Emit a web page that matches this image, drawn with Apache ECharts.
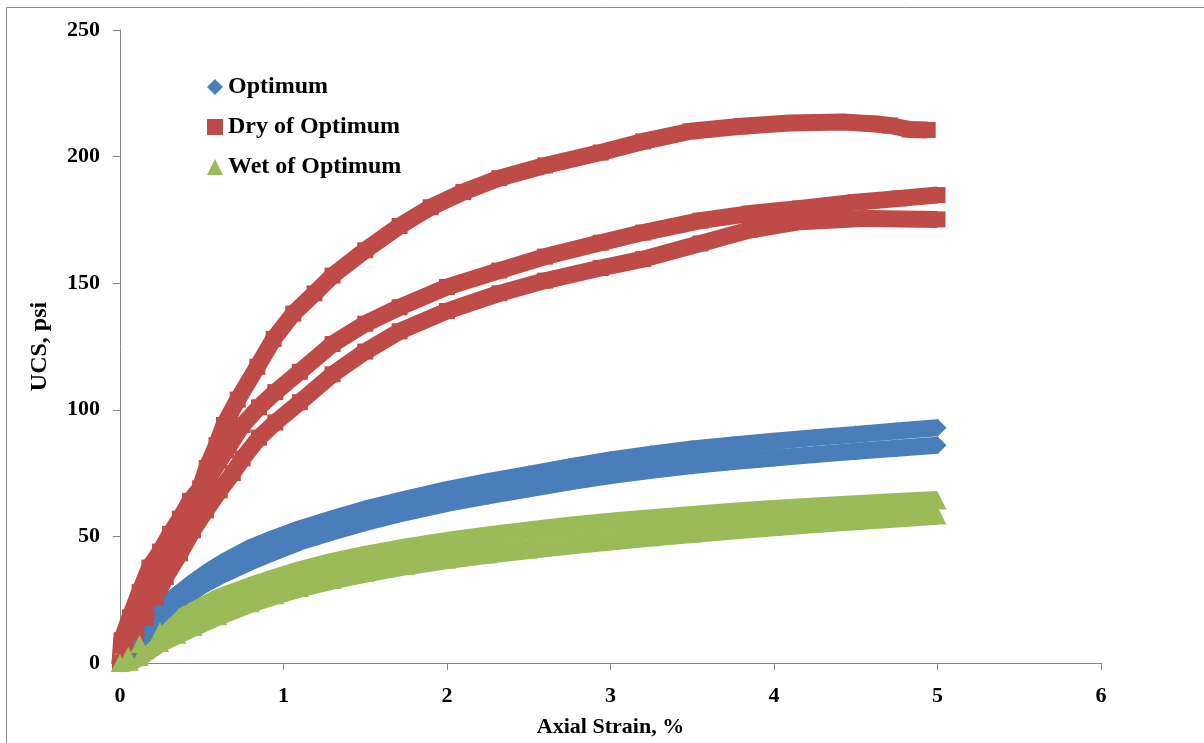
<!DOCTYPE html>
<html>
<head>
<meta charset="utf-8">
<script src="https://cdn.jsdelivr.net/npm/echarts@6/dist/echarts.min.js"></script>
<style>
html, body { margin: 0; padding: 0; background: #fff; }
#chart { width: 1204px; height: 743px; }
</style>
</head>
<body>
<div id="chart"></div>
<script>
// axial strain (%) vs UCS (psi), one array per specimen
const optimumA = [[0,0],[0.05,3],[0.1,7],[0.15,11],[0.2,16],[0.25,21],[0.3,24.5],[0.35,27],[0.45,32],[0.55,36.5],[0.65,40.5],[0.8,45.6],[0.95,49.5],[1.1,53],[1.3,57],[1.5,60.8],[1.75,64.8],[2,68.5],[2.25,71.6],[2.5,74.5],[2.75,77.5],[3,80.2],[3.25,82.5],[3.5,84.5],[3.75,86.1],[4,87.6],[4.25,89],[4.5,90.3],[4.75,91.6],[5,92.9]]
const optimumB = [[0,0],[0.05,3],[0.1,6],[0.15,10],[0.2,14],[0.25,18],[0.3,21],[0.4,26],[0.5,30.5],[0.6,34],[0.7,37],[0.8,40],[0.95,44],[1.1,47.8],[1.3,51.8],[1.5,55.5],[1.75,59.5],[2,63],[2.25,66],[2.5,68.8],[2.75,71.5],[3,74],[3.25,76.1],[3.5,78],[3.75,79.6],[4,81],[4.25,82.3],[4.5,83.6],[4.75,84.8],[5,86]]

const dryA = [[0,0],[0.01,9],[0.06,18],[0.12,28],[0.18,37.7],[0.245,44],[0.306,51],[0.367,57],[0.428,64],[0.49,69],[0.53,77],[0.59,86],[0.636,94],[0.72,104],[0.84,117],[0.94,128],[1.06,138],[1.19,146],[1.3,153],[1.5,163],[1.71,172.6],[1.9,180],[2.1,186],[2.32,191.5],[2.6,196.5],[2.94,201.6],[3.2,206],[3.49,210],[3.8,212],[4.1,213.3],[4.42,213.7],[4.6,213],[4.71,212.3],[4.83,210.7],[4.94,210.5]]
const dryB = [[0,0],[0.02,8],[0.08,18],[0.15,28],[0.22,38],[0.3,48],[0.38,57],[0.46,65],[0.55,74],[0.65,84],[0.75,94],[0.85,101],[0.95,107],[1.1,115],[1.3,126],[1.5,134],[1.71,140.5],[2,148.5],[2.32,155],[2.6,160.5],[2.94,166],[3.2,170],[3.55,174.7],[3.85,177.5],[4.16,179.5],[4.5,182],[4.77,183.5],[5,184.8]]
const dryC = [[0,0],[0.03,6],[0.1,12],[0.16,18],[0.22,26],[0.28,34],[0.367,43.3],[0.446,52.4],[0.526,60.3],[0.61,68.2],[0.69,75],[0.75,80.8],[0.85,89],[0.95,95],[1.1,103],[1.3,114],[1.5,123],[1.71,131],[2,139],[2.32,146],[2.6,151],[2.94,156],[3.2,159.5],[3.55,165.7],[3.85,171],[4.16,174.3],[4.57,175.6],[5,175.2]]

const wetA = [[0,0],[0.05,3],[0.12,7.5],[0.245,12.6],[0.35,16.8],[0.45,20.5],[0.6,25.5],[0.8,30.3],[0.95,33.5],[1.1,36.5],[1.3,39.8],[1.5,42.5],[1.75,45.5],[2,48],[2.25,50.2],[2.5,52.2],[2.75,54],[3,55.6],[3.25,57],[3.5,58.3],[3.75,59.5],[4,60.6],[4.25,61.6],[4.5,62.5],[4.75,63.4],[5,64.2]]
const wetB = [[0,0],[0.06,0.5],[0.12,2.4],[0.245,7.9],[0.35,11.2],[0.45,14.2],[0.6,18.5],[0.8,23.6],[0.95,26.8],[1.1,29.6],[1.3,32.8],[1.5,35.5],[1.75,38.4],[2,40.8],[2.25,42.9],[2.5,44.8],[2.75,46.6],[3,48.2],[3.25,49.7],[3.5,51.1],[3.75,52.5],[4,53.8],[4.25,55.1],[4.5,56.2],[4.75,57.3],[5,58.3]]

const groups = ['Optimum', 'Dry of Optimum', 'Wet of Optimum']

const serif = '"Liberation Serif", "Times New Roman", serif'
const axisColor = '#868686'
const look = {
  'Optimum': { color: '#4A7EBB', symbol: 'diamond', size: 18, width: 17 },
  'Dry of Optimum': { color: '#BE4B48', symbol: 'rect', size: 16, width: 17 },
  'Wet of Optimum': { color: '#9BBB59', symbol: 'triangle', size: 18, width: 19 },
}

// excel draws each specimen as a dense run of markers, a thick line + markers gets close
const curve = (name, data) => ({
  name,
  type: 'line',
  data,
  symbol: look[name].symbol,
  symbolSize: look[name].size,
  showAllSymbol: true,
  itemStyle: { color: look[name].color },
  lineStyle: { color: look[name].color, width: look[name].width, join: 'round' },
  emphasis: { disabled: true },
})

const axisLabel = { color: '#000', fontFamily: serif, fontWeight: 'bold', fontSize: 22 }

const options = {
  animation: false,
  grid: { left: 120, right: 103, top: 30, bottom: 77 },
  graphic: [{
    type: 'rect',
    silent: true,
    shape: { x: 6.5, y: 7.5, width: 1300, height: 800 },
    style: { fill: 'none', stroke: '#8c8c8c', lineWidth: 1 },
  }],
  legend: {
    orient: 'vertical',
    left: 202,
    top: 70,
    itemWidth: 16,
    itemHeight: 16,
    itemGap: 16,
    data: [
      { name: groups[0], icon: 'diamond' },
      { name: groups[1], icon: 'rect' },
      { name: groups[2], icon: 'triangle' },
    ],
    textStyle: { color: '#000', fontFamily: serif, fontWeight: 'bold', fontSize: 24 },
  },
  xAxis: {
    type: 'value',
    min: 0,
    max: 6,
    interval: 1,
    name: 'Axial Strain, %',
    nameLocation: 'middle',
    nameGap: 53,
    nameTextStyle: { color: '#000', fontFamily: serif, fontWeight: 'bold', fontSize: 22 },
    axisLine: { lineStyle: { color: axisColor } },
    axisTick: { length: 7, lineStyle: { color: axisColor } },
    axisLabel: { ...axisLabel, margin: 22 },
    splitLine: { show: false },
  },
  yAxis: {
    type: 'value',
    min: 0,
    max: 250,
    interval: 50,
    name: 'UCS, psi',
    nameLocation: 'middle',
    nameGap: 68,
    nameTextStyle: { color: '#000', fontFamily: serif, fontWeight: 'bold', fontSize: 24 },
    axisLine: { show: true, lineStyle: { color: axisColor } },
    axisTick: { show: true, length: 7, lineStyle: { color: axisColor } },
    axisLabel: { ...axisLabel, margin: 20 },
    splitLine: { show: false },
  },
  series: [
    curve(groups[0], optimumA),
    curve(groups[0], optimumB),
    curve(groups[1], dryA),
    curve(groups[1], dryB),
    curve(groups[1], dryC),
    curve(groups[2], wetA),
    curve(groups[2], wetB),
  ],
}

const chart = echarts.init(document.getElementById('chart'))
chart.setOption(options)
window.addEventListener('resize', function () {
  chart && chart.resize()
})
</script>
</body>
</html>
